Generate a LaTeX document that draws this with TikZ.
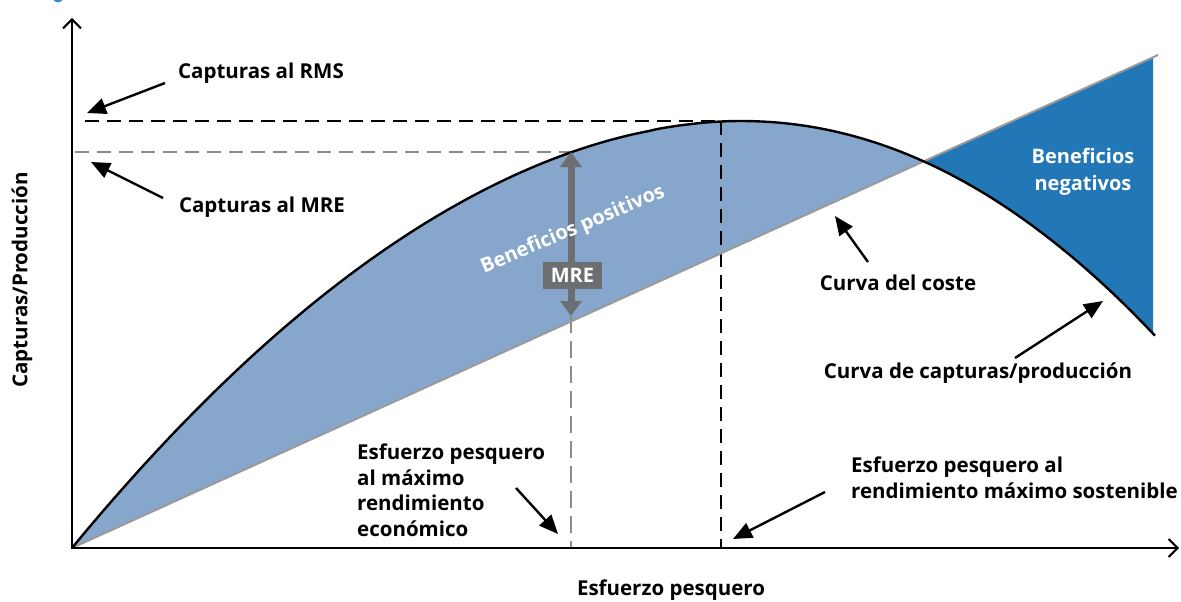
\documentclass[tikz,border=0pt]{standalone}
\usepackage{fontspec}
\setmainfont{Open Sans}
\usetikzlibrary{arrows.meta}
\definecolor{lightb}{HTML}{87A6CC}
\definecolor{darkb}{HTML}{2277B6}
\definecolor{costg}{HTML}{9A9A9A}
\definecolor{mreg}{HTML}{6D6E71}
\definecolor{dashg}{HTML}{8C8C8C}
\definecolor{titleb}{HTML}{2E8BD2}
\begin{document}
\begin{tikzpicture}[x=1pt,y=-1pt,
  lbl/.style={font=\bfseries\fontsize{20.5}{24}\selectfont, inner sep=0pt},
  mlbl/.style={font=\bfseries\fontsize{20.5}{25.4}\selectfont, inner sep=0pt, align=left},
  wlbl/.style={font=\bfseries\fontsize{20}{27}\selectfont, inner sep=0pt, text=white, align=center},
  ann/.style={line width=2.4pt, -{Triangle[length=19pt,width=16pt]}},
  axisline/.style={line width=2.4pt, -{Straight Barb[length=9pt,width=18pt,line width=2pt]}},
  blackdash/.style={line width=2pt, dash pattern=on 14pt off 8pt},
  graydash/.style={dashg, line width=1.8pt, dash pattern=on 14pt off 8pt},
  graydashthin/.style={dashg, line width=1.3pt, dash pattern=on 17pt off 8pt},
  catch/.style={insert path={plot[domain=72:739,samples=90,variable=\t] ({\t},{548-427*(1-pow((740-\t)/668,1.9))}) -- plot[domain=741:1155,samples=60,variable=\t] ({\t},{121+11.61*pow((\t-740)/100,2.05)})}}
]
\useasboundingbox (0,0) rectangle (1181,602);
\begin{scope}
  \clip (0,0) rectangle (1181,602);
  \fill[titleb] (58,-3) circle (5.5);
\end{scope}

\coordinate (o) at (72,548);
\coordinate (costend) at (1158,55);

% fills
\begin{scope}
  \clip (72,548) -- (1158,55) -- (1158,0) -- (72,0) -- cycle;
  \fill[lightb] [catch] -- (1158,548) -- cycle;
\end{scope}
\begin{scope}
  \clip (72,548) -- (1153,57) -- (1153,602) -- (72,602) -- cycle;
  \fill[darkb] [catch] -- (1153,0) -- (72,0) -- cycle;
\end{scope}

% dashed guides
\coordinate (rmsL) at (85,121);
\coordinate (rmsP) at (721,121);
\coordinate (rmsB) at (721,548);
\coordinate (mreL) at (75,152);
\coordinate (mreP) at (571,152);
\coordinate (mreC) at (571,316);
\coordinate (mreB) at (571,548);
\draw[blackdash] (rmsL) -- (rmsP);
\draw[blackdash] (rmsP) -- (rmsB);
\draw[graydash] (mreL) -- (mreP);
\draw[graydashthin] (mreC) -- (mreB);

% cost line and catch curve
\draw[costg, line width=2pt] (o) -- (costend);
\draw[line width=2.4pt, line join=round] [catch];

% axes
\coordinate (ytop) at (72,18);
\coordinate (xend) at (1179,548);
\draw[axisline] (72,549.2) -- (ytop);
\draw[axisline] (70.8,548) -- (xend);

% MRE double arrow
\draw[mreg, line width=7pt, {Triangle[length=15pt,width=21pt]}-{Triangle[length=15pt,width=21pt]}] (mreC) -- (mreP);
\node[fill=mreg, text=white, font=\bfseries\fontsize{20}{24}\selectfont, minimum width=59pt, minimum height=27pt, inner sep=0pt] (mrebox) at (572.5,275.5) {MRE};

% white labels
\node[wlbl, rotate=23] (benpos) at (573,230) {Beneficios positivos};
\node[wlbl] (benneg) at (1083,172) {Beneficios\\negativos};

% labels
\node[lbl] (lrms) at (261,73) {Capturas al RMS};
\node[lbl] (lmre) at (262,207) {Capturas al MRE};
\node[lbl] (lcoste) at (898,283) {Curva del coste};
\node[lbl] (lcurva) at (978,373) {Curva de capturas/producción};
\node[mlbl, anchor=north west] (lefm) at (357,444) {Esfuerzo pesquero\\al máximo\\rendimiento\\económico};
\node[mlbl, anchor=north west] (lefr) at (851,457) {Esfuerzo pesquero al\\rendimiento máximo sostenible};
\node[lbl] (lx) at (671,590) {Esfuerzo pesquero};
\node[lbl, rotate=90] (ly) at (22,280) {Capturas/Producción};

% annotation arrows
\coordinate (rmsA) at (165,83);   \coordinate (rmsT) at (87,113);
\coordinate (mreA) at (163,198);  \coordinate (mreT) at (91,162);
\coordinate (costeA) at (868,262); \coordinate (costeT) at (835,216);
\coordinate (curvaA) at (1015,358); \coordinate (curvaT) at (1103,301);
\coordinate (efmA) at (516,488);  \coordinate (efmT) at (558,534);
\coordinate (efrA) at (825,492);  \coordinate (efrT) at (733,539);
\draw[ann] (rmsA) -- (rmsT);
\draw[ann] (mreA) -- (mreT);
\draw[ann] (costeA) -- (costeT);
\draw[ann] (curvaA) -- (curvaT);
\draw[ann] (efmA) -- (efmT);
\draw[ann] (efrA) -- (efrT);
\end{tikzpicture}
\end{document}
